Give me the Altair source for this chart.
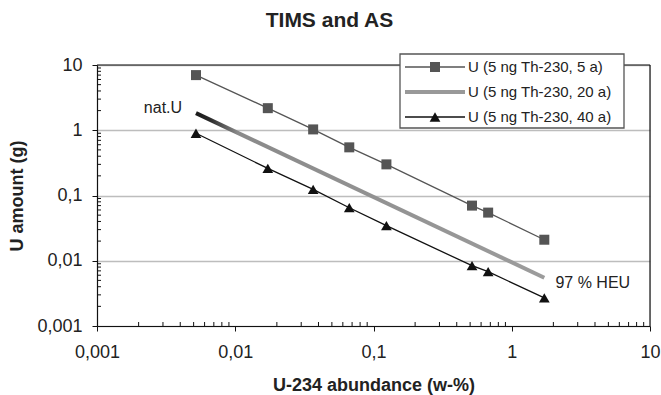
import altair as alt
import pandas as pd

# ---- data ----
series = ["U (5 ng Th-230, 5 a)", "U (5 ng Th-230, 20 a)", "U (5 ng Th-230, 40 a)"]
x_vals = [0.0052, 0.0172, 0.0366, 0.0668, 0.124, 0.516, 0.675, 1.72]
y_5a = [7.0, 2.18, 1.03, 0.547, 0.30, 0.070, 0.0547, 0.021]
y_40a = [0.90, 0.26, 0.124, 0.065, 0.0345, 0.0084, 0.0068, 0.0027]
x_20a = [0.0052, 1.72]
y_20a = [1.83, 0.0055]
major_ticks = [0.001, 0.01, 0.1, 1, 10]
minor_ticks = [k * 10.0 ** e for e in range(-3, 1) for k in range(2, 10)]
ann_text = ["nat.U", "97 % HEU"]
ann_x = [0.0030, 2.07]
ann_y = [2.2, 0.0046]

W, H = 553, 261
FONT = "Liberation Sans"

df5 = pd.DataFrame({"x": x_vals, "y": y_5a})
df40 = pd.DataFrame({"x": x_vals, "y": y_40a})
df20 = pd.DataFrame({"x": x_20a, "y": y_20a})
ann = pd.DataFrame({"t": ann_text, "x": ann_x, "y": ann_y})
one = pd.DataFrame({"k": [0]})
xminor = pd.DataFrame({"v": minor_ticks})
yminor = pd.DataFrame({"v": minor_ticks})

xscale = alt.Scale(type="log", domain=[0.001, 10])
yscale = alt.Scale(type="log", domain=[0.001, 10])
label_expr = "replace(format(datum.value, '~g'), '.', ',')"

xaxis = alt.Axis(values=major_ticks, labelExpr=label_expr, grid=False, labelFlush=False,
                 labelOverlap=False,
                 tickSize=5, tickColor="#111", domainColor="#111", domainWidth=1.2,
                 labelFont=FONT, labelFontSize=18, labelColor="#222", labelPadding=12,
                 title="U-234 abundance (w-%)", titleFont=FONT, titleFontSize=18,
                 titleFontWeight="bold", titleColor="#222", titlePadding=15)
yaxis = alt.Axis(values=major_ticks, labelExpr=label_expr, grid=True, labelFlush=False,
                 labelOverlap=False,
                 gridColor="#bdbdbd", gridWidth=1.5,
                 tickSize=5, tickColor="#111", domainColor="#111", domainWidth=1.2,
                 labelFont=FONT, labelFontSize=18, labelColor="#222", labelPadding=10,
                 title="U amount (g)", titleFont=FONT, titleFontSize=18,
                 titleFontWeight="bold", titleColor="#222", titlePadding=10)

X = alt.X("x:Q", scale=xscale, axis=xaxis)
Y = alt.Y("y:Q", scale=yscale, axis=yaxis)
Xn = alt.X("x:Q", scale=xscale)
Yn = alt.Y("y:Q", scale=yscale)

base5 = alt.Chart(df5)
line5 = base5.mark_line(color="#555555", strokeWidth=1.3).encode(x=X, y=Y)
pts5 = base5.mark_point(shape="square", filled=True, size=100, color="#555555", opacity=1).encode(x=Xn, y=Yn)

gray_grad = alt.LinearGradient(
    gradient="linear", x1=0, x2=1, y1=0, y2=0,
    stops=[alt.GradientStop(offset=0, color="#1a1a1a"),
           alt.GradientStop(offset=0.04, color="#2a2a2a"),
           alt.GradientStop(offset=0.12, color="#8a8a8a"),
           alt.GradientStop(offset=1, color="#9c9c9c")])
line20 = alt.Chart(df20).mark_line(color=gray_grad, strokeWidth=4).encode(x=Xn, y=Yn)

base40 = alt.Chart(df40)
line40 = base40.mark_line(color="#111111", strokeWidth=1.3).encode(x=Xn, y=Yn)
pts40 = base40.mark_point(shape="triangle-up", filled=True, size=115, color="#111111", opacity=1).encode(x=Xn, y=Yn)

ann_nat = alt.Chart(ann).transform_filter(alt.datum.t == ann_text[0]).mark_text(
    font=FONT, fontSize=16, color="#222", baseline="middle", align="center").encode(x=Xn, y=Yn, text="t:N")
ann_heu = alt.Chart(ann).transform_filter(alt.datum.t == ann_text[1]).mark_text(
    font=FONT, fontSize=16, color="#222", baseline="middle", align="left").encode(x=Xn, y=Yn, text="t:N")

xmin_layer = alt.Chart(xminor).mark_rule(color="#111", strokeWidth=1).encode(
    x=alt.X("v:Q", scale=xscale), y=alt.value(H), y2=alt.value(H - 4))
ymin_layer = alt.Chart(yminor).mark_rule(color="#111", strokeWidth=1).encode(
    y=alt.Y("v:Q", scale=yscale), x=alt.value(0), x2=alt.value(4))

top_border = alt.Chart(one).mark_rule(color="#111", strokeWidth=1.2).encode(
    x=alt.value(0), x2=alt.value(W), y=alt.value(0))
right_border = alt.Chart(one).mark_rule(color="#111", strokeWidth=1.2).encode(
    x=alt.value(W), y=alt.value(0), y2=alt.value(H))

data_layers = alt.layer(line5, xmin_layer, ymin_layer, top_border, right_border,
                        line20, line40, pts5, pts40, ann_nat, ann_heu)

# ---- legend ----
leg = pd.DataFrame({"label": series})
LY = alt.Y("label:N", scale=alt.Scale(type="point", domain=series, range=[2, 52], padding=0), axis=None)
leg_box = alt.Chart(one).mark_rect(fill="white", stroke="#555555", strokeWidth=1.3).encode(
    x=alt.value(303), x2=alt.value(527), y=alt.value(-11), y2=alt.value(63))
leg_styles = [("#555555", 1.3), ("#999999", 4), ("#111111", 1.3)]
leg_lines = [
    alt.Chart(leg).transform_filter(alt.datum.label == s).mark_rule(color=c, strokeWidth=w).encode(
        x=alt.value(308), x2=alt.value(368), y=LY)
    for s, (c, w) in zip(series, leg_styles)
]
leg_sq = alt.Chart(leg).transform_filter(alt.datum.label == series[0]).mark_point(
    shape="square", filled=True, size=100, color="#555555", opacity=1).encode(x=alt.value(338), y=LY)
leg_tri = alt.Chart(leg).transform_filter(alt.datum.label == series[2]).mark_point(
    shape="triangle-up", filled=True, size=115, color="#111111", opacity=1).encode(x=alt.value(338), y=LY)
leg_text = alt.Chart(leg).mark_text(font=FONT, fontSize=15, color="#222", align="left", baseline="middle").encode(
    x=alt.value(371), y=LY, text="label:N")
legend_layers = alt.layer(leg_box, *leg_lines, leg_sq, leg_tri, leg_text)

chart = alt.layer(data_layers, legend_layers).resolve_scale(y="independent").properties(
    width=W, height=H,
    title=alt.TitleParams("TIMS and AS", font=FONT, fontSize=21, fontWeight="bold", color="#222",
                          anchor="middle", dx=-44, offset=22),
    autosize=alt.AutoSizeParams(type="none"),
    padding={"left": 97, "top": 65, "right": 11, "bottom": 69},
).configure_view(stroke=None).configure(background="white")

chart.save("out.html", embed_options={"renderer": "svg", "actions": False})
